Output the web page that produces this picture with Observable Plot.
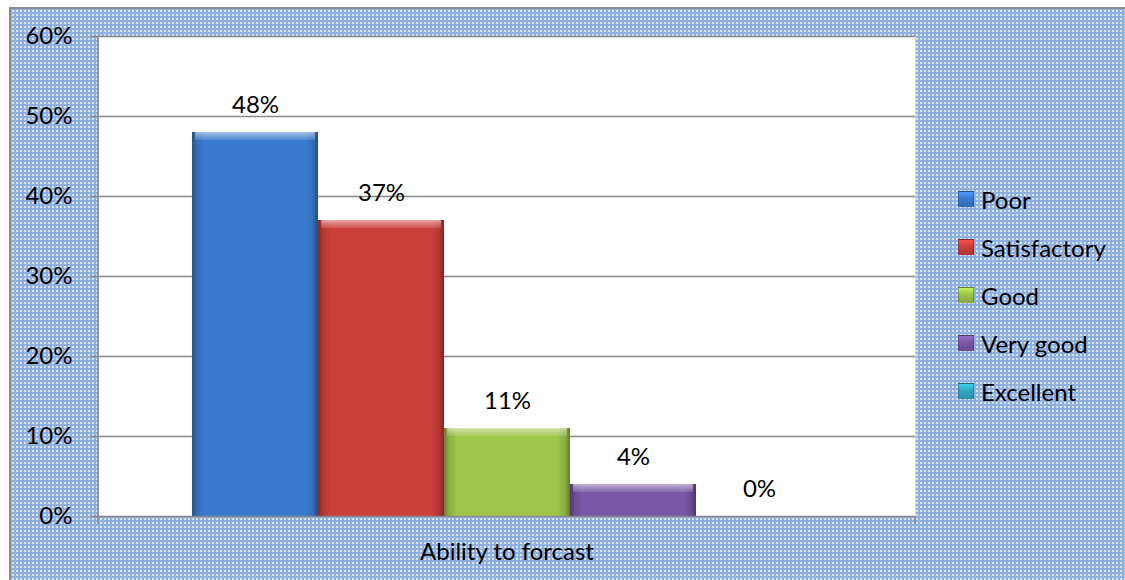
<!DOCTYPE html>
<html>
<head>
<meta charset="utf-8">
<script src="https://cdn.jsdelivr.net/npm/d3@7"></script>
<script src="https://cdn.jsdelivr.net/npm/@observablehq/plot@0.6"></script>
<style>
  html, body { margin: 0; padding: 0; background: #fff; }
  #chart { position: relative; width: 1125px; height: 580px; overflow: hidden; font-family: Lato, "Open Sans", sans-serif; }
  #chart .backdrop {
    position: absolute; left: 9px; top: 7px; width: 1130px; height: 590px;
    border: 2px solid #8c8c8c;
    background-color: #97b6e2;
    background-image: url("data:image/svg+xml,%3Csvg xmlns='http://www.w3.org/2000/svg' width='4' height='4'%3E%3Crect width='4' height='4' fill='%238eafdf'/%3E%3Crect x='1' y='1' width='2' height='2' fill='%23d6e3f6'/%3E%3C/svg%3E");
  }
  #chart svg { position: absolute; left: 0; top: 0; }
  #legend { position: absolute; left: 958px; top: 175px; }
  #legend .item { display: flex; align-items: center; height: 48px; font-size: 24px; color: #000; }
  #legend .swatch { width: 14px; height: 14px; margin-right: 7px; border: 1px solid rgba(0,0,0,0.25); box-sizing: content-box; }
</style>
</head>
<body>
<div id="chart"><div class="backdrop"></div><div id="legend"></div></div>
<script>
// Ratings of the ability to forecast, share of respondents
const categories = ["Ability to forcast"];
const ratings = ["Poor", "Satisfactory", "Good", "Very good", "Excellent"];
const shares = [0.48, 0.37, 0.11, 0.04, 0];
const palette = ["#3b7bcf", "#cb3f3b", "#9dc54a", "#7a58a7", "#34a8c5"];
const yTicks = [0, 0.1, 0.2, 0.3, 0.4, 0.5, 0.6];

const rows = ratings.map((rating, i) => ({group: categories[0], rating, value: shares[i]}));
const pct = d3.format(".0%");
const gridGray = "#898989";

// gradients used for the bevelled look of the bars
function defs() {
  const d = d3.create("svg:defs");
  const side = d.append("linearGradient").attr("id", "side-shade").attr("x1", 0).attr("x2", 1).attr("y1", 0).attr("y2", 0);
  [[0, 0.35], [0.04, 0.12], [0.1, 0], [0.9, 0], [0.96, 0.12], [1, 0.38]].forEach(([o, a]) =>
    side.append("stop").attr("offset", o).attr("stop-color", "#000").attr("stop-opacity", a));
  const top = d.append("linearGradient").attr("id", "top-glint").attr("x1", 0).attr("x2", 0).attr("y1", 0).attr("y2", 1);
  [[0, 0.55], [0.5, 0.3], [1, 0.12]].forEach(([o, a]) =>
    top.append("stop").attr("offset", o).attr("stop-color", "#fff").attr("stop-opacity", a));
  return d.node();
}

// left axis line and the tick marks at the ends of the category axis
function edges(index, scales, values, dims) {
  const {width, height, marginLeft, marginRight, marginTop, marginBottom} = dims;
  const x0 = marginLeft, x1 = width - marginRight, yb = height - marginBottom;
  const g = d3.create("svg:g").attr("stroke", gridGray).attr("stroke-width", 1.5);
  g.append("line").attr("x1", x0).attr("x2", x0).attr("y1", marginTop).attr("y2", yb + 8);
  g.append("line").attr("x1", x1).attr("x2", x1).attr("y1", yb).attr("y2", yb + 8);
  return g.node();
}

const plot = Plot.plot({
  width: 1125,
  height: 580,
  marginLeft: 98,
  marginRight: 210,
  marginTop: 36,
  marginBottom: 64,
  style: {background: "transparent", fontFamily: "Lato, 'Open Sans', sans-serif", fontSize: "24px", color: "#000", overflow: "visible"},
  fx: {domain: categories, padding: 0, label: null},
  x: {domain: ratings, paddingInner: 0, paddingOuter: 0.737, axis: null},
  y: {domain: [0, 0.6], axis: null},
  color: {domain: ratings, range: palette},
  marks: [
    defs,
    Plot.frame({fill: "white", stroke: "none"}),
    Plot.ruleY(yTicks.filter((t) => t > 0), {stroke: gridGray, strokeWidth: 1.5, insetLeft: -8}),
    Plot.barY(rows, {fx: "group", x: "rating", y: "value", fill: "rating"}),
    Plot.barY(rows.filter((d) => d.value > 0), {fx: "group", x: "rating", y: "value", fill: "url(#side-shade)"}),
    Plot.barY(rows.filter((d) => d.value > 0), {fx: "group", x: "rating", y1: "value", y2: "value", insetBottom: -8, insetLeft: 3, insetRight: 3, fill: "url(#top-glint)"}),
    Plot.ruleY([0], {stroke: gridGray, strokeWidth: 1.5, insetLeft: -8}),
    edges,
    Plot.text(rows, {fx: "group", x: "rating", y: "value", text: (d) => pct(d.value), dy: -27, fontSize: 24, fill: "#000"}),
    Plot.axisY({ticks: yTicks, tickSize: 0, tickPadding: 26, tickFormat: pct, fontSize: 24, label: null}),
    Plot.axisFx({anchor: "bottom", tickSize: 0, tickPadding: 26, fontSize: 24, label: null})
  ]
});

document.getElementById("chart").insertBefore(plot, document.getElementById("legend"));

// legend to the right of the plot
const legend = d3.select("#legend");
ratings.forEach((r, i) => {
  const item = legend.append("div").attr("class", "item");
  item.append("div").attr("class", "swatch")
    .style("background", `linear-gradient(to bottom, ${d3.color(palette[i]).brighter(0.6)}, ${palette[i]} 45%, ${d3.color(palette[i]).darker(0.4)})`);
  item.append("span").text(r);
});
</script>
</body>
</html>
